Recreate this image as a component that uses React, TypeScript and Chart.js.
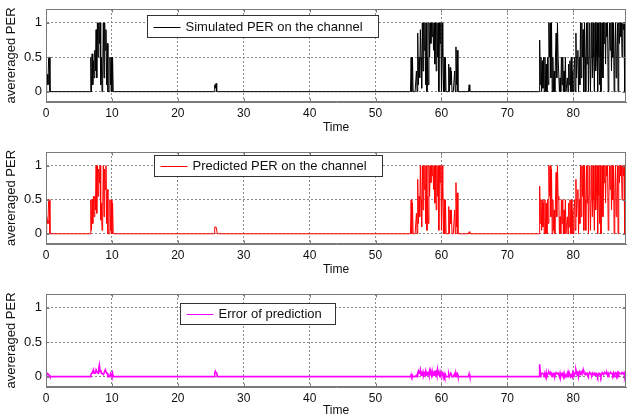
import React, { useEffect, useRef } from "react";
import { Chart, registerables } from "chart.js";

Chart.register(...registerables);

// ---------- axis settings ----------
const X_TICKS = [0, 10, 20, 30, 40, 50, 60, 70, 80];
const Y_TICKS = [0, 0.5, 1];
const Y_TICK_LABELS = ["0", "0.5", "1"];
const X_MIN = 0;
const X_MAX = 88;
const Y_MIN = -0.15;
const Y_MAX = 1.2;
const STEP = 0.1; // sampling interval of the time grid
const X_TITLE = "Time";
const Y_TITLE = "avereraged PER";

// start times of the active (non-zero) stretches
const SEG_STARTS = [0.1, 6.8, 25.6, 55.3, 64.2, 74.8];

// ---------- simulated PER ----------
const simSeg1 = [0.2, 0.25, 0.1, 0.5, 0.5];
const simSeg2 = [0.5, 0, 0.55, 0.1, 0.45, 0.2, 0.6, 0.3, 0.9, 0.2, 1, 0.5, 1, 0.7, 1, 0.1, 0.5, 0, 0.3, 1, 0.2, 1, 0.6, 0.9, 0.1, 0.7, 0, 0, 0, 0.5, 0.1, 0.5, 0, 0.5, 0];
const simSeg3 = [0.1, 0.05, 0.12, 0];
const simSeg4 = [
  0, 0.5, 0, 0.5, 0, 0, 0, 0, 0, 0.3,
  0, 0.85, 0.1, 0.5, 0.2, 0.9, 0.5, 0.05, 1, 0.3,
  1, 0.6, 1, 0.1, 1, 0, 0.5, 0.1, 1, 0.5,
  1, 0.7, 1, 0.8, 1, 0.6, 1, 0.4, 1, 0.3,
  1, 0.5, 1, 0, 1, 0.7, 1, 0, 1, 0.5,
  0, 0.5, 0, 0.5, 0, 0, 0, 0, 0.4, 0,
  0.35, 0.1, 0.3, 0, 0, 0, 0, 0.3, 0, 0.65,
  0.1, 0.6, 0,
];
const simSeg5 = [0.1, 0];
const simSeg6 = [
  0, 0.75, 0.1, 0.5, 0, 0.45, 0.05, 0.5, 0, 0.5,
  0, 0.4, 0, 0.5, 0.1, 1, 0.5, 1, 0.2, 1,
  0, 0.5, 0, 0.3, 0, 0.5, 0.85, 0.2, 1, 0.5,
  0.5, 0, 0.2, 0, 0.5, 0.1, 0.5, 0, 0.3, 0,
  0.5, 0, 0, 0.2, 0, 0.4, 0.1, 0.45, 0, 0.5,
  0, 0.3, 0, 0.3, 0.5, 0, 0.85, 0.2, 0.5, 0.6,
  0, 0.5, 0.1, 1, 0.2, 1, 0.5, 0.9, 0, 1,
  0.5, 0, 1, 0.4, 1, 0, 0.5, 1, 0, 0.5,
  1, 0.2, 1, 0.5, 0, 1, 0.3, 0.5, 1, 0,
  1, 0.5, 0.1, 1, 0, 0.5, 1, 0.2, 1, 0.7,
  1, 0.4, 1, 0.8, 1, 0, 0.5, 1, 0.6, 1,
  0.3, 1, 0.5, 1, 0, 0.5, 1, 0.2, 0.5, 1,
  0, 1, 0.7, 1, 0.8, 1, 0.5, 1, 0.9, 1,
  0, 0.5, 0,
];

// ---------- predicted PER ----------
const predSeg1 = [0.25, 0.2, 0.15, 0.5, 0.5];
const predSeg2 = [0.5, 0.05, 0.5, 0.15, 0.55, 0.25, 0.55, 0.35, 1, 0.3, 1, 0.55, 0.95, 0.75, 1, 0.2, 0.45, 0.05, 0.35, 1, 0.25, 0.95, 0.65, 1, 0.15, 0.65, 0, 0, 0, 0.5, 0.05, 0.5, 0, 0.45, 0];
const predSeg3 = [0.1, 0.1, 0.1, 0.1, 0];
const predSeg4 = [
  0, 0.5, 0, 0.45, 0, 0, 0, 0, 0, 0.3,
  0, 0.8, 0.15, 0.55, 0.25, 1, 0.5, 0.1, 1, 0.35,
  1, 0.65, 1, 0.15, 1, 0.05, 0.55, 0.15, 1, 0.55,
  1, 0.75, 1, 0.85, 1, 0.65, 1, 0.45, 1, 0.35,
  1, 0.55, 1, 0.05, 1, 0.75, 1, 0.05, 1, 0.5,
  0, 0.5, 0, 0.5, 0, 0, 0, 0, 0.4, 0,
  0.35, 0.15, 0.35, 0, 0, 0, 0, 0.35, 0, 0.75,
  0.1, 0.6, 0,
];
const predSeg5 = [0.03, 0];
const predSeg6 = [
  0, 0.7, 0.15, 0.5, 0.05, 0.5, 0.1, 0.45, 0, 0.5,
  0, 0.45, 0, 0.5, 0.15, 1, 0.55, 1, 0.25, 0.95,
  0, 0.5, 0.05, 0.35, 0, 0.5, 0.9, 0.25, 1, 0.55,
  0.5, 0, 0.25, 0, 0.5, 0.15, 0.5, 0, 0.35, 0,
  0.5, 0, 0, 0.25, 0, 0.45, 0.1, 0.5, 0, 0.5,
  0, 0.35, 0, 0.35, 0.5, 0.05, 0.8, 0.25, 0.5, 0.65,
  0, 0.5, 0.15, 1, 0.25, 1, 0.55, 1, 0.05, 1,
  0.5, 0.05, 1, 0.45, 1, 0, 0.55, 1, 0.05, 0.5,
  1, 0.25, 1, 0.5, 0.05, 1, 0.35, 0.55, 1, 0,
  1, 0.55, 0.15, 1, 0, 0.5, 1, 0.25, 1, 0.75,
  1, 0.45, 1, 0.85, 1, 0.05, 0.5, 1, 0.65, 1,
  0.35, 1, 0.5, 1, 0, 0.55, 1, 0.25, 0.5, 1,
  0, 1, 0.75, 1, 0.85, 1, 0.5, 1, 0.85, 1,
  0, 0.5, 0,
];

// ---------- prediction error ----------
const errSeg1 = [0.05, 0.05, 0.05, 0.03, 0.02];
const errSeg2 = [0.02, 0.05, 0.05, 0.05, 0.1, 0.05, 0.05, 0.05, 0.1, 0.1, 0.06, 0.05, 0.12, 0.17, 0.08, 0.1, 0.05, 0.05, 0.05, 0.03, 0.05, 0.05, 0.1, 0.1, 0.05, 0.05, 0, 0, 0, 0.02, 0.05, 0.03, 0, 0.05, 0];
const errSeg3 = [0.05, 0.08, 0.06, 0.05, 0];
const errSeg4 = [
  0, 0.03, 0, 0.02, 0, 0, 0, 0, 0, 0.02,
  0, 0.05, 0.08, 0.05, 0.06, 0.1, 0.02, 0.05, 0.03, 0.07,
  0.02, 0.05, 0.03, 0.08, 0.02, 0.06, 0.05, 0.06, 0.02, 0.08,
  0.03, 0.06, 0.02, 0.08, 0.03, 0.05, 0.02, 0.09, 0.03, 0.06,
  0.02, 0.1, 0.03, 0.05, 0.02, 0.07, 0.03, 0.05, 0.06, 0.02,
  0, 0.04, 0, 0.03, 0, 0, 0, 0, 0.04, 0,
  0.03, 0.05, 0.04, 0, 0, 0, 0, 0.04, 0, 0.05,
  0.02, 0.04, 0,
];
const errSeg5 = [0.04, 0];
const errSeg6 = [
  0, 0.18, 0.05, 0.03, 0.05, 0.05, 0.05, 0.04, 0, 0.03,
  0, 0.06, 0, 0.03, 0.05, 0.07, 0.05, 0.03, 0.06, 0.05,
  0, 0.04, 0.05, 0.05, 0, 0.03, 0.06, 0.05, 0.04, 0.05,
  0.03, 0, 0.05, 0, 0.04, 0.05, 0.02, 0, 0.05, 0,
  0.02, 0, 0, 0.05, 0, 0.05, 0.02, 0.03, 0, 0.02,
  0, 0.05, 0, 0.05, 0.03, 0.05, 0.1, 0.06, 0.02, 0.08,
  0, 0.05, 0.06, 0.04, 0.07, 0.05, 0.06, 0.1, 0.05, 0.04,
  0.03, 0.05, 0.04, 0.05, 0.02, 0, 0.05, 0.06, 0.05, 0.03,
  0.02, 0.05, 0.03, 0.04, 0.05, 0.02, 0.05, 0.05, 0.04, 0,
  0.03, 0.05, 0.05, 0.03, 0, 0.04, 0.06, 0.05, 0.03, 0.05,
  0.06, 0.05, 0.04, 0.05, 0.02, 0.05, 0.03, 0.05, 0.05, 0.06,
  0.05, 0.04, 0.02, 0.05, 0, 0.05, 0.06, 0.05, 0.02, 0.05,
  0, 0.06, 0.05, 0.05, 0.05, 0.04, 0.06, 0.05, 0.05, 0.06,
  0, 0.04, 0,
];

const SIM_SEGS = [simSeg1, simSeg2, simSeg3, simSeg4, simSeg5, simSeg6];
const PRED_SEGS = [predSeg1, predSeg2, predSeg3, predSeg4, predSeg5, predSeg6];
const ERR_SEGS = [errSeg1, errSeg2, errSeg3, errSeg4, errSeg5, errSeg6];

const LEGEND_LABELS = ["Simulated PER on the channel", "Predicted PER on the channel", "Error of prediction"];
const SERIES_COLORS = ["#000000", "#ff0000", "#ff00ff"];

// ---------- styling ----------
const FONT = "'Liberation Sans', Arial, Helvetica, sans-serif";
const BOX_COLOR = "#7a7a7a";
const GRID_COLOR = "#8a8a8a";

function buildSeries(segs: number[][]) {
  const pts: { x: number; y: number }[] = [{ x: X_MIN, y: 0 }];
  segs.forEach((vals, k) => {
    const t0 = SEG_STARTS[k];
    const before = +(t0 - STEP).toFixed(3);
    if (before > pts[pts.length - 1].x) pts.push({ x: before, y: 0 });
    vals.forEach((v, i) => pts.push({ x: +(t0 + i * STEP).toFixed(3), y: v }));
    pts.push({ x: +(t0 + vals.length * STEP).toFixed(3), y: 0 });
  });
  if (pts[pts.length - 1].x < X_MAX) pts.push({ x: X_MAX, y: 0 });
  return pts;
}

type PanelSpec = {
  segs: number[][];
  color: string;
  width: number;
  label: string;
  top: number;
  height: number;
  padTop: number;
  plotH: number;
  titlePadBottom: number;
  legend: { dx: number; dy: number; w: number; h: number };
};

const frameLegendPlugin = {
  id: "frameLegend",
  afterDraw(chart: any, _args: any, opts: any) {
    const { ctx, chartArea: a, scales } = chart;
    const L = Math.round(a.left) + 0.5;
    const R = Math.round(a.right) - 0.5;
    const T = Math.round(a.top) + 0.5;
    const B = Math.round(a.bottom) - 0.5;
    ctx.save();
    ctx.strokeStyle = BOX_COLOR;
    ctx.lineWidth = 1;
    ctx.setLineDash([]);
    ctx.strokeRect(L, T, R - L, B - T);
    // inward tick marks (MATLAB style)
    ctx.beginPath();
    X_TICKS.forEach((t) => {
      const x = Math.round(scales.x.getPixelForValue(t)) + 0.5;
      ctx.moveTo(x, B);
      ctx.lineTo(x, B - 3);
      ctx.moveTo(x, T);
      ctx.lineTo(x, T + 3);
    });
    Y_TICKS.forEach((t) => {
      const y = Math.round(scales.y.getPixelForValue(t)) + 0.5;
      ctx.moveTo(L, y);
      ctx.lineTo(L + 3, y);
      ctx.moveTo(R, y);
      ctx.lineTo(R - 3, y);
    });
    ctx.stroke();

    // legend box inside the axes
    const lg = opts.legend;
    const bx = Math.round(a.left + lg.dx) + 0.5;
    const by = Math.round(a.top + lg.dy) + 0.5;
    ctx.fillStyle = "#ffffff";
    ctx.fillRect(bx, by, lg.w, lg.h);
    ctx.strokeStyle = "#333333";
    ctx.strokeRect(bx, by, lg.w, lg.h);
    const cy = Math.round(by + lg.h / 2) + 0.5;
    ctx.strokeStyle = opts.color;
    ctx.lineWidth = 1;
    ctx.beginPath();
    ctx.moveTo(bx + 6, cy);
    ctx.lineTo(bx + 33, cy);
    ctx.stroke();
    ctx.fillStyle = "#111111";
    ctx.font = `13px ${FONT}`;
    ctx.textBaseline = "middle";
    ctx.textAlign = "left";
    ctx.fillText(opts.label, bx + 38, by + lg.h / 2 + 0.5);
    ctx.restore();
  },
};

const PANELS: PanelSpec[] = [
  {
    segs: SIM_SEGS, color: SERIES_COLORS[0], width: 1, label: LEGEND_LABELS[0],
    top: 0, height: 140, padTop: 9, plotH: 93, titlePadBottom: 5,
    legend: { dx: 101, dy: 6, w: 231, h: 22 },
  },
  {
    segs: PRED_SEGS, color: SERIES_COLORS[1], width: 1, label: LEGEND_LABELS[1],
    top: 142, height: 140, padTop: 10, plotH: 92, titlePadBottom: 5,
    legend: { dx: 108, dy: 3, w: 228, h: 21 },
  },
  {
    segs: ERR_SEGS, color: SERIES_COLORS[2], width: 1.6, label: LEGEND_LABELS[2],
    top: 284, height: 134, padTop: 10, plotH: 93, titlePadBottom: 0,
    legend: { dx: 134, dy: 9, w: 155, h: 21 },
  },
];

function Panel({ spec }: { spec: PanelSpec }) {
  const ref = useRef<HTMLCanvasElement | null>(null);
  useEffect(() => {
    if (!ref.current) return;
    const xHeight = spec.height - spec.padTop - spec.plotH;
    const chart = new Chart(ref.current, {
      type: "line",
      data: {
        datasets: [
          {
            data: buildSeries(spec.segs),
            borderColor: spec.color,
            borderWidth: spec.width,
            pointRadius: 0,
            tension: 0,
            fill: false,
          },
        ],
      },
      options: {
        animation: false,
        responsive: false,
        maintainAspectRatio: false,
        devicePixelRatio: 1,
        layout: { padding: { top: spec.padTop, right: 4, left: 0, bottom: 0 } },
        events: [],
        plugins: {
          legend: { display: false },
          tooltip: { enabled: false },
          frameLegend: { legend: spec.legend, color: spec.color, label: spec.label },
        } as any,
        scales: {
          x: {
            type: "linear",
            min: X_MIN,
            max: X_MAX,
            afterBuildTicks: (s: any) => {
              s.ticks = X_TICKS.map((v) => ({ value: v }));
            },
            afterFit: (s: any) => {
              s.height = xHeight;
              s.paddingLeft = 0;
              s.paddingRight = 0;
              s.paddingTop = 0;
              s.paddingBottom = 0;
            },
            ticks: {
              color: "#111",
              font: { family: FONT, size: 12 },
              padding: 4,
              maxRotation: 0,
              autoSkip: false,
              callback: (v: any) => String(v),
            },
            grid: { color: GRID_COLOR, lineWidth: 1, drawTicks: false },
            border: { display: true, color: BOX_COLOR, dash: [2, 2] },
            title: {
              display: true,
              text: X_TITLE,
              color: "#111",
              font: { family: FONT, size: 12 },
              padding: { top: 0, bottom: spec.titlePadBottom },
            },
          },
          y: {
            type: "linear",
            min: Y_MIN,
            max: Y_MAX,
            afterBuildTicks: (s: any) => {
              s.ticks = Y_TICKS.map((v) => ({ value: v }));
            },
            afterFit: (s: any) => {
              s.width = 46;
              s.paddingLeft = 0;
              s.paddingRight = 0;
              s.paddingTop = 0;
              s.paddingBottom = 0;
            },
            ticks: {
              color: "#111",
              font: { family: FONT, size: 13 },
              padding: 4,
              autoSkip: false,
              callback: (v: any) => {
                const i = Y_TICKS.indexOf(Number(v));
                return i >= 0 ? Y_TICK_LABELS[i] : "";
              },
            },
            grid: { color: GRID_COLOR, lineWidth: 1, drawTicks: false },
            border: { display: true, color: BOX_COLOR, dash: [2, 2] },
            title: {
              display: true,
              text: Y_TITLE,
              color: "#111",
              font: { family: FONT, size: 13 },
              padding: { top: 4, bottom: 0 },
            },
          },
        },
      },
      plugins: [frameLegendPlugin],
    } as any);
    return () => chart.destroy();
  }, [spec]);
  return (
    <canvas
      ref={ref}
      width={630}
      height={spec.height}
      style={{ position: "absolute", left: 0, top: spec.top, width: 630, height: spec.height, display: "block" }}
    />
  );
}

export default function App() {
  return (
    <div style={{ position: "fixed", left: 0, top: 0, width: 630, height: 418, overflow: "hidden", background: "#fff" }}>
      {PANELS.map((p, i) => (
        <Panel key={i} spec={p} />
      ))}
    </div>
  );
}
